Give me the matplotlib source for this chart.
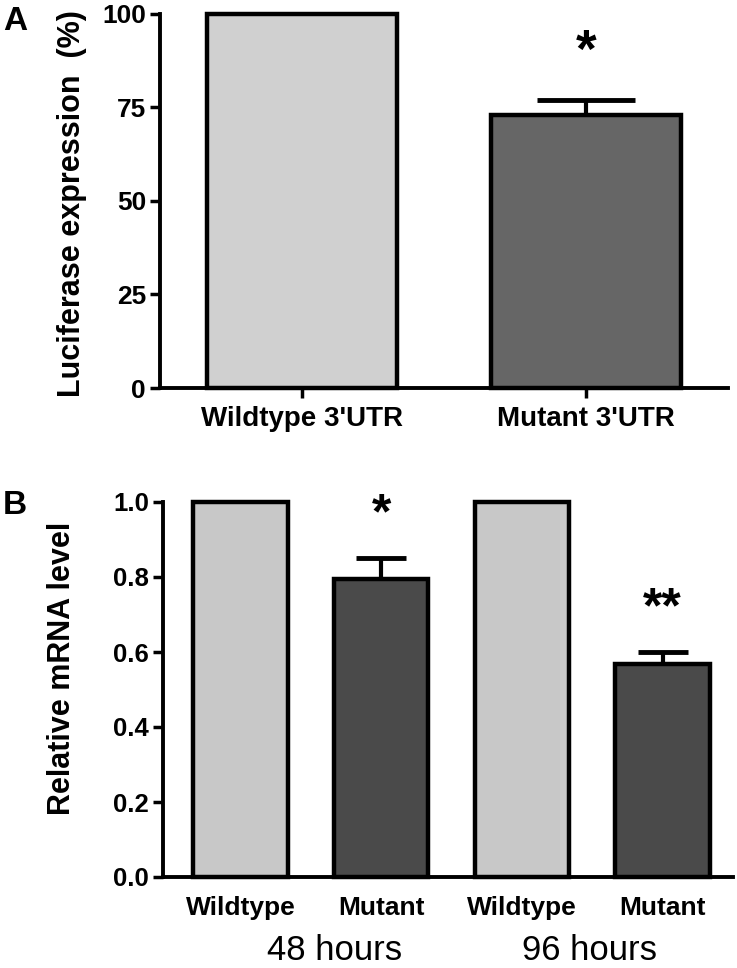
import matplotlib
matplotlib.use("Agg")
import matplotlib.pyplot as plt
import numpy as np

plt.rcParams['font.family'] = ['Liberation Sans', 'DejaVu Sans']

# Panel A data
a_labels = ["Wildtype 3'UTR", "Mutant 3'UTR"]
a_values = [100, 73]
a_err = [0, 4]
a_sig = ["", "*"]
a_colors = ["#d0d0d0", "#666666"]

# Panel B data
b_labels = ["Wildtype", "Mutant", "Wildtype", "Mutant"]
b_values = [1.0, 0.795, 1.0, 0.567]
b_err = [0, 0.055, 0, 0.033]
b_sig = ["", "*", "", "**"]
b_colors = ["#c8c8c8", "#4a4a4a", "#c8c8c8", "#4a4a4a"]
b_groups = ["48 hours", "96 hours"]

W, H = 737, 968
fig = plt.figure(figsize=(W / 100, H / 100), dpi=100)


def style_axes(ax):
    for s in ["top", "right"]:
        ax.spines[s].set_visible(False)
    for s in ["left", "bottom"]:
        ax.spines[s].set_linewidth(2.8)
    ax.tick_params(axis='y', length=7, width=2.5, pad=3)
    ax.tick_params(axis='x', length=7, width=2.5, pad=6)


# ---- Panel A ----
axA = fig.add_axes([160 / W, 1 - 388 / H, (728 - 160) / W, (388 - 13.5) / H])
xa = np.arange(len(a_values))
axA.bar(xa, a_values, width=0.67, color=a_colors, edgecolor='black',
        linewidth=3.2, clip_on=False, zorder=3)
axA.errorbar(xa, a_values, yerr=[np.zeros(len(a_err)), a_err], fmt='none',
             ecolor='black', elinewidth=3, capsize=35, capthick=3.5, zorder=2)
for x, v, e, s in zip(xa, a_values, a_err, a_sig):
    if s:
        axA.text(x, v + e + 12.5, s, ha='center', va='center', fontsize=38,
                 fontweight='bold')
axA.set_xlim(-0.5, 1.5)
axA.set_ylim(0, 100)
axA.set_yticks([0, 25, 50, 75, 100])
axA.set_xticks(xa)
axA.set_xticklabels(a_labels, fontsize=20, fontweight='bold')
for t in axA.get_yticklabels():
    t.set_fontsize(19)
    t.set_fontweight('bold')
style_axes(axA)
fig.text(72 / W, 1 - 204 / H, "Luciferase expression  (%)", rotation=90,
         ha='center', va='center', fontsize=22, fontweight='bold')
fig.text(3 / W, 1 - 21 / H, "A", ha='left', va='center', fontsize=24,
         fontweight='bold')

# ---- Panel B ----
axB = fig.add_axes([163 / W, 1 - 877 / H, (733 - 163) / W, (877 - 502) / H])
xb = np.arange(len(b_values))
axB.bar(xb, b_values, width=0.67, color=b_colors, edgecolor='black',
        linewidth=3.2, clip_on=False, zorder=3)
axB.errorbar(xb, b_values, yerr=[np.zeros(len(b_err)), b_err], fmt='none',
             ecolor='black', elinewidth=3, capsize=18, capthick=3.5, zorder=2)
for x, v, e, s in zip(xb, b_values, b_err, b_sig):
    if s:
        axB.text(x, v + e + 0.115, s, ha='center', va='center', fontsize=36,
                 fontweight='bold')
axB.set_xlim(-0.55, 3.5)
axB.set_ylim(0, 1.0)
axB.set_yticks(np.arange(0, 1.01, 0.2))
axB.yaxis.set_major_formatter(plt.FormatStrFormatter('%.1f'))
axB.set_xticks(xb)
axB.set_xticklabels(b_labels, fontsize=19, fontweight='bold')
for t in axB.get_yticklabels():
    t.set_fontsize(18.5)
    t.set_fontweight('bold')
style_axes(axB)
axB.tick_params(axis='x', length=0, pad=14)
for gx, g in zip([0.67, 2.48], b_groups):
    axB.text(gx, -0.221, g, transform=axB.transData, ha='center',
             va='baseline', fontsize=25, clip_on=False)
fig.text(62 / W, 1 - 668 / H, "Relative mRNA level", rotation=90,
         ha='center', va='center', fontsize=22, fontweight='bold')
fig.text(3 / W, 1 - 506 / H, "B", ha='left', va='center', fontsize=24,
         fontweight='bold')

fig.savefig("out.png", dpi=100)
